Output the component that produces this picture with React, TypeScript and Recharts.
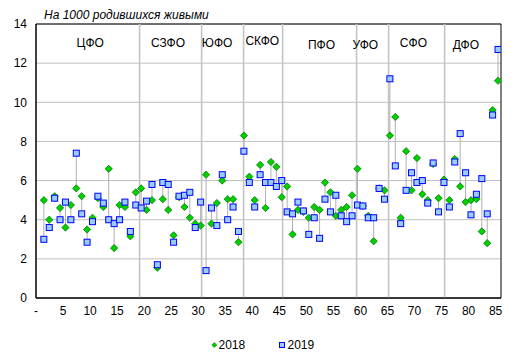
import React from 'react';
import {
  ScatterChart,
  Scatter,
  XAxis,
  YAxis,
  CartesianGrid,
  ReferenceLine,
  ReferenceDot,
  ReferenceArea,
  ErrorBar,
  Legend,
} from 'recharts';

// Infant mortality per 1000 live births, regions 1..85
const rate2018 = [
  5.0, 4.0, 5.2, 4.6, 3.6, 4.75, 5.6, 5.2, 3.5, 4.1,
  5.1, 4.65, 6.6, 2.55, 4.75, 4.65, 3.15, 5.4, 5.6, 4.5,
  5.0, 1.55, 5.05, 4.5, 3.2, 5.15, 4.65, 4.1, 3.8, 3.7,
  6.3, 3.8, 4.85, 6.0, 5.05, 5.05, 2.85, 8.3, 6.2, 5.0,
  6.8, 4.6, 6.95, 6.7, 5.15, 5.7, 3.25, 4.5, 4.4, 4.1,
  4.65, 4.5, 5.9, 5.4, 4.2, 4.5, 4.65, 5.25, 6.6, 4.7,
  4.2, 2.9, 5.6, 5.5, 8.3, 9.25, 4.1, 7.5, 5.5, 7.15,
  5.3, 5.0, 6.85, 5.1, 6.05, 5.0, 7.1, 5.7, 4.9, 5.0,
  5.05, 3.4, 2.8, 9.6, 11.1,
];
const rate2019 = [
  3.0, 3.6, 5.1, 4.0, 4.9, 4.0, 7.4, 4.3, 2.85, 3.9,
  5.2, 4.85, 4.0, 3.8, 4.0, 4.9, 3.4, 4.75, 4.6, 4.95,
  5.8, 1.7, 5.9, 5.8, 2.85, 5.2, 5.25, 5.4, 3.6, 4.9,
  1.4, 4.6, 3.7, 6.3, 4.0, 4.65, 3.4, 7.5, 5.9, 4.65,
  6.3, 5.9, 5.9, 5.7, 6.0, 4.4, 4.3, 4.9, 4.45, 3.25,
  4.1, 3.05, 5.05, 4.4, 5.25, 4.2, 3.9, 4.2, 4.75, 4.7,
  4.1, 4.1, 5.6, 5.05, 11.2, 6.75, 3.8, 5.5, 6.4, 5.9,
  6.0, 4.85, 6.9, 4.4, 5.9, 4.65, 6.95, 8.4, 6.4, 4.25,
  5.3, 6.1, 4.3, 9.35, 12.7,
];

const xTicks = [0, 5, 10, 15, 20, 25, 30, 35, 40, 45, 50, 55, 60, 65, 70, 75, 80, 85];
const yTicks = [0, 2, 4, 6, 8, 10, 12, 14];

const districts = ['ЦФО', 'СЗФО', 'ЮФО', 'СКФО', 'ПФО', 'УФО', 'СФО', 'ДФО'];
const districtLabelX = [10.04, 24.4, 33.5, 41.85, 52.8, 60.9, 69.8, 79.5];
const districtLabelY = [13.05, 13.05, 13.05, 13.12, 12.95, 12.95, 13.05, 12.93];
const districtBounds = [19.16, 30.63, 38.39, 45.61, 59.29, 65.21, 75.57];

const seriesNames = ['2018', '2019'];

const X_SHIFT = 0.45;
const FONT = 'Arial, "Liberation Sans", sans-serif';

const data2018 = rate2018.map((v, i) => {
  const o = rate2019[i];
  return {
    x: i + 1 + X_SHIFT,
    y: v,
    range: [v - Math.min(v, o), Math.max(v, o) - v],
  };
});
const data2019 = rate2019.map((v, i) => ({ x: i + 1 + X_SHIFT, y: v }));

const Diamond = (props: any) => {
  const { cx, cy } = props;
  if (cx == null || cy == null) return null;
  const r = 3.6;
  return (
    <polygon
      points={`${cx},${cy - r} ${cx + r},${cy} ${cx},${cy + r} ${cx - r},${cy}`}
      fill="#00d000"
      stroke="#007a00"
      strokeWidth={0.8}
    />
  );
};

const Square = (props: any) => {
  const { cx, cy } = props;
  if (cx == null || cy == null) return null;
  return (
    <rect x={cx - 3} y={cy - 3} width={6} height={6} fill="#99ccff" stroke="#0000ff" strokeWidth={1} />
  );
};

const LegendContent = () => (
  <div style={{ position: 'relative', width: 516, height: 16, fontFamily: FONT, fontSize: 12 }}>
    <svg width={516} height={16} style={{ position: 'absolute', left: 0, top: 0 }}>
      <polygon points="214.3,5.5 216.8,8 214.3,10.5 211.8,8" fill="#00d000" stroke="#007a00" strokeWidth={0.6} />
      <text x={218.5} y={12.3} fontFamily={FONT} fontSize={12} fill="#000">{seriesNames[0]}</text>
      <rect x={279.5} y={5.5} width={5} height={5} fill="#99ccff" stroke="#0000ff" strokeWidth={1} />
      <text x={287.5} y={12.3} fontFamily={FONT} fontSize={12} fill="#000">{seriesNames[1]}</text>
    </svg>
  </div>
);

export default function App() {
  return (
    <div style={{ position: 'absolute', left: 0, top: 0, width: 516, height: 361, background: '#fff' }}>
      <ScatterChart
        width={516}
        height={361}
        margin={{ top: 24, right: 15, bottom: 17, left: 0 }}
        style={{ fontFamily: FONT }}
      >
        <CartesianGrid vertical={false} stroke="#c0c0c0" strokeWidth={1} />
        <XAxis
          type="number"
          dataKey="x"
          domain={[0, 86]}
          ticks={xTicks}
          interval={0}
          allowDataOverflow
          height={30}
          tickLine={false}
          tickSize={0}
          tickMargin={8}
          axisLine={{ stroke: '#000', strokeWidth: 1 }}
          tick={{ fill: '#000', fontSize: 12, fontFamily: FONT }}
          tickFormatter={(v: number) => (v === 0 ? '-' : String(v))}
        />
        <YAxis
          type="number"
          dataKey="y"
          domain={[0, 14]}
          ticks={yTicks}
          interval={0}
          allowDataOverflow
          width={36}
          tickLine={false}
          tickSize={0}
          tickMargin={9}
          axisLine={{ stroke: '#000', strokeWidth: 1 }}
          tick={{ fill: '#000', fontSize: 12, fontFamily: FONT }}
        />
        {districtBounds.map((b) => (
          <ReferenceLine key={`b${b}`} x={b} stroke="#c4c4c4" strokeWidth={1.6} />
        ))}
        <ReferenceArea x1={0} x2={86} y1={0} y2={14} fill="none" stroke="#000" strokeWidth={1} />
        {districts.map((d, i) => (
          <ReferenceDot
            key={d}
            x={districtLabelX[i]}
            y={districtLabelY[i]}
            r={0}
            fill="none"
            stroke="none"
            label={{ value: d, position: 'center', fill: '#000', fontSize: 12, fontFamily: FONT }}
          />
        ))}
        <Scatter name={seriesNames[0]} data={data2018} shape={Diamond} isAnimationActive={false}>
          <ErrorBar dataKey="range" direction="y" width={0} stroke="#b0b0b0" strokeWidth={1} />
        </Scatter>
        <Scatter name={seriesNames[1]} data={data2019} shape={Square} isAnimationActive={false} />
        <Legend
          verticalAlign="bottom"
          content={LegendContent}
          wrapperStyle={{ position: 'absolute', left: 0, top: 337, width: 516, height: 16 }}
        />
        <text x={44} y={18.5} fontFamily={FONT} fontSize={12} fontStyle="italic" fill="#000">
          На 1000 родившихся живыми
        </text>
      </ScatterChart>
    </div>
  );
}
